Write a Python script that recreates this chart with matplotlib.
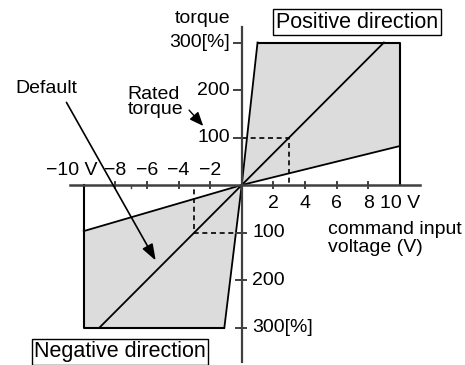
import numpy as np
import matplotlib.pyplot as plt

plt.rcParams['font.family'] = ['Liberation Sans', 'DejaVu Sans']
plt.rcParams['font.size'] = 14

# torque limits of the two quadrants, [positive, negative]
limit_torque = [300, -300]
full_volt = [10, -10]
steep_volt = [1.0, -1.1]       # steepest gain reaches the limit here
default_volt = [9.0, -9.0]     # default gain reaches the limit here
shallow_torque = [82, -97]     # torque of the shallowest gain at +-10 V
rated_volt = [3, -3]
rated_torque = [100, -100]

xticks_pos = [2, 4, 6, 8, 10]
xlabels_pos = ["2", "4", "6", "8", "10 V"]
xticks_neg = [-2, -4, -6, -8, -10]
xlabels_neg = ["\u22122", "\u22124", "\u22126", "\u22128", "\u221210 V"]
yticks = [100, 200, 300]
ylabels = ["100", "200", "300[%]"]

shade = "#dcdcdc"
axis_col = "#404040"

fig = plt.figure(figsize=(4.65, 3.65), dpi=100)
ax = fig.add_axes([0, 0, 1, 1])
ax.set_xlim(-15.30, 14.13)
ax.set_ylim(-378.9, 389.5)
ax.axis("off")

for i in range(2):
    T = limit_torque[i]
    V = full_volt[i]
    # shaded band between steepest and shallowest gain
    ax.fill([0, steep_volt[i], V, V], [0, T, T, shallow_torque[i]],
            color=shade, lw=0, zorder=1)
    ax.plot([0, steep_volt[i]], [0, T], color="k", lw=1.3, zorder=3)
    ax.plot([0, default_volt[i]], [0, T], color="k", lw=1.3, zorder=3)
    ax.plot([0, V], [0, shallow_torque[i]], color="k", lw=1.3, zorder=3)
    ax.plot([steep_volt[i], V, V], [T, T, 0], color="k", lw=1.5, zorder=3)
    # rated torque guides
    ax.plot([0, rated_volt[i], rated_volt[i]], [rated_torque[i], rated_torque[i], 0],
            color="k", lw=1.2, ls=(0, (3, 2.2)), zorder=2)

# axes
ax.plot([-10.87, 11.28], [0, 0], color=axis_col, lw=1.8, zorder=4)
ax.plot([0, 0], [-372.6, 332.6], color=axis_col, lw=1.6, zorder=4)

for v in xticks_pos[:-1] + xticks_neg[:-1]:
    ax.plot([v, v], [-6.5, 6.5], color=axis_col, lw=1.4, zorder=4)
ax.plot([-7, -7], [0, -6.5], color=axis_col, lw=1.0, zorder=4)
for t in yticks:
    ax.plot([-0.5, 0], [t, t], color=axis_col, lw=1.4, zorder=4)
    ax.plot([-0.35, 0.3], [-t, -t], color=axis_col, lw=1.4, zorder=4)

# tick labels
for v, s in zip(xticks_pos, xlabels_pos):
    ax.text(v, -38, s, ha="center", va="center")
for v, s in zip(xticks_neg, xlabels_neg):
    if v == -10:
        ax.text(v + 0.85, 31.6, s, ha="right", va="center")
    else:
        ax.text(v, 31.6, s, ha="center", va="center")
for t, s in zip(yticks, ylabels):
    ax.text(-0.74, t, s, ha="right", va="center")
    ax.text(0.65, -t, s, ha="left", va="center")

ax.text(-0.74, 351.6, "torque", ha="right", va="center")
ax.text(5.47, -112.6, "command input\nvoltage (V)", ha="left", va="center",
        linespacing=1.15)

ax.text(-7.23, 174.7, "Rated\ntorque", ha="left", va="center", linespacing=0.85)
ax.annotate("", xy=(-2.32, 120), xytext=(-3.45, 162),
            arrowprops=dict(arrowstyle="-|>,head_length=0.6,head_width=0.25",
                            color="k", lw=1.0))

ax.text(-14.35, 204, "Default", ha="left", va="center")
ax.annotate("", xy=(-5.36, -164), xytext=(-11.18, 179),
            arrowprops=dict(arrowstyle="-|>,head_length=0.7,head_width=0.25",
                            color="k", lw=1.2), zorder=5)

box = dict(boxstyle="square,pad=0.12", fc="white", ec="k", lw=1.0)
fig.text(357 / 465, 1 - 22 / 365, "Positive direction", ha="center", va="center",
         fontsize=15.5, bbox=box)
fig.text(120 / 465, 1 - 352 / 365, "Negative direction", ha="center", va="center",
         fontsize=15.5, bbox=box)

plt.savefig("out.png", dpi=100)
